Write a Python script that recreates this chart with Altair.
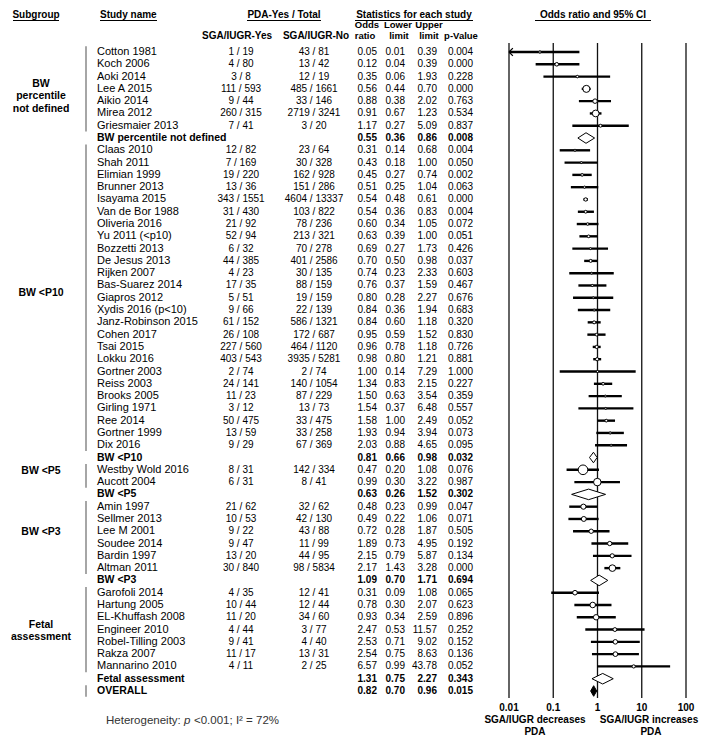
import altair as alt
import pandas as pd
import numpy as np

# ---------------- data ----------------
subgroup_names = ["BW percentile not defined", "BW <P10", "BW <P5", "BW <P3", "Fetal assessment"]
subgroup_labels = ["BW\npercentile\nnot defined", "BW <P10", "BW <P5", "BW <P3", "Fetal\nassessment"]

study_names = [
    "Cotton 1981", "Koch 2006", "Aoki 2014", "Lee A 2015", "Aikio 2014", "Mirea 2012", "Griesmaier 2013",
    "Claas 2010", "Shah 2011", "Elimian 1999", "Brunner  2013", "Isayama 2015", "Van de Bor 1988",
    "Oliveria 2016", "Yu 2011 (<p10)", "Bozzetti 2013", "De Jesus 2013", "Rijken 2007", "Bas-Suarez 2014",
    "Giapros 2012", "Xydis 2016 (p<10)", "Janz-Robinson 2015", "Cohen  2017", "Tsai 2015", "Lokku 2016",
    "Gortner 2003", "Reiss 2003", "Brooks 2005", "Girling  1971", "Ree 2014", "Gortner  1999", "Dix 2016",
    "Westby Wold 2016", "Aucott 2004",
    "Amin 1997", "Sellmer  2013", "Lee M 2001", "Soudee 2014", "Bardin 1997", "Altman 2011",
    "Garofoli 2014", "Hartung 2005", "EL-Khuffash 2008", "Engineer 2010", "Robel-Tilling  2003",
    "Rakza 2007", "Mannarino 2010",
]
study_group = [0] * 7 + [1] * 25 + [2] * 2 + [3] * 6 + [4] * 7

yes_counts = [
    "1 / 19", "4 / 80", "3 / 8", "111 / 593", "9 / 44", "260 / 315", "7 / 41",
    "12 / 82", "7 / 169", "19 / 220", "13 / 36", "343 / 1551", "31 / 430", "21 / 92", "52 / 94",
    "6 / 32", "44 / 385", "4 / 23", "17 / 35", "5 / 51", "9 / 66", "61 / 152", "26 / 108", "227 / 560",
    "403 / 543", "2 / 74", "24 / 141", "11 / 23", "3 / 12", "50 / 475", "13 / 59", "9 / 29",
    "8 / 31", "6 / 31",
    "21 / 62", "10 / 53", "9 / 22", "9 / 47", "13 / 20", "30 / 840",
    "4 / 35", "10 / 44", "11 / 20", "4 / 44", "9 / 41", "11 / 17", "4 / 11",
]
no_counts = [
    "43 / 81", "13 / 42", "12 / 19", "485 / 1661", "33 / 146", "2719 / 3241", "3 / 20",
    "23 / 64", "30 / 328", "162 / 928", "151 / 286", "4604 / 13337", "103 / 822", "78 / 236", "213 / 321",
    "70 / 278", "401 / 2586", "30 / 135", "88 / 159", "19 / 159", "22 / 139", "586 / 1321", "172 / 687",
    "464 / 1120", "3935 / 5281", "2 / 74", "140 / 1054", "87 / 229", "13 / 73", "33 / 475", "33 / 258",
    "67 / 369",
    "142 / 334", "8 / 41",
    "32 / 62", "42 / 130", "43 / 88", "11 / 99", "44 / 95", "98 / 5834",
    "12 / 41", "12 / 44", "34 / 60", "3 / 77", "4 / 40", "13 / 31", "2 / 25",
]
odds_ratio = [
    0.05, 0.12, 0.35, 0.56, 0.88, 0.91, 1.17,
    0.31, 0.43, 0.45, 0.51, 0.54, 0.54, 0.60, 0.63, 0.69, 0.70, 0.74, 0.76, 0.80, 0.84, 0.84, 0.95,
    0.96, 0.98, 1.00, 1.34, 1.50, 1.54, 1.58, 1.93, 2.03,
    0.47, 0.99,
    0.48, 0.49, 0.72, 1.89, 2.15, 2.17,
    0.31, 0.78, 0.93, 2.47, 2.53, 2.54, 6.57,
]
lower_limit = [
    0.01, 0.04, 0.06, 0.44, 0.38, 0.67, 0.27,
    0.14, 0.18, 0.27, 0.25, 0.48, 0.36, 0.34, 0.39, 0.27, 0.50, 0.23, 0.37, 0.28, 0.36, 0.60, 0.59,
    0.78, 0.80, 0.14, 0.83, 0.63, 0.37, 1.00, 0.94, 0.88,
    0.20, 0.30,
    0.23, 0.22, 0.28, 0.73, 0.79, 1.43,
    0.09, 0.30, 0.34, 0.53, 0.71, 0.75, 0.99,
]
upper_limit = [
    0.39, 0.39, 1.93, 0.70, 2.02, 1.23, 5.09,
    0.68, 1.00, 0.74, 1.04, 0.61, 0.83, 1.05, 1.00, 1.73, 0.98, 2.33, 1.59, 2.27, 1.94, 1.18, 1.52,
    1.18, 1.21, 7.29, 2.15, 3.54, 6.48, 2.49, 3.94, 4.65,
    1.08, 3.22,
    0.99, 1.06, 1.87, 4.95, 5.87, 3.28,
    1.08, 2.07, 2.59, 11.57, 9.02, 8.63, 43.78,
]
p_values = [
    "0.004", "0.000", "0.228", "0.000", "0.763", "0.534", "0.837",
    "0.004", "0.050", "0.002", "0.063", "0.000", "0.004", "0.072", "0.051", "0.426", "0.037", "0.603",
    "0.467", "0.676", "0.683", "0.320", "0.830", "0.726", "0.881", "1.000", "0.227", "0.359", "0.557",
    "0.052", "0.073", "0.095",
    "0.076", "0.987",
    "0.047", "0.071", "0.505", "0.192", "0.134", "0.000",
    "0.065", "0.623", "0.896", "0.252", "0.152", "0.136", "0.052",
]

summary_or = [0.55, 0.81, 0.63, 1.09, 1.31]
summary_lower = [0.36, 0.66, 0.26, 0.70, 0.75]
summary_upper = [0.86, 0.98, 1.52, 1.71, 2.27]
summary_p = ["0.008", "0.032", "0.302", "0.694", "0.343"]

overall_name = "OVERALL"
overall_or, overall_lower, overall_upper, overall_p = 0.82, 0.70, 0.96, "0.015"

axis_ticks = [0.01, 0.1, 1, 10, 100]
axis_tick_labels = ["0.01", "0.1", "1", "10", "100"]

# ---------------- table building ----------------
rows = []
group_rows = []
r = 0
for gi in range(len(subgroup_names)):
    idx = [i for i, g in enumerate(study_group) if g == gi]
    se = np.array([(np.log(upper_limit[i]) - np.log(lower_limit[i])) / 3.92 for i in idx])
    w = 1.0 / (se ** 2 + 0.1)
    relw = w / w.sum()
    first = r
    for k, i in enumerate(idx):
        rows.append(dict(row=r, kind="study", name=study_names[i], yes=yes_counts[i], no=no_counts[i],
                         orv=odds_ratio[i], lo=lower_limit[i], hi=upper_limit[i],
                         or_t=f"{odds_ratio[i]:.2f}", lo_t=f"{lower_limit[i]:.2f}",
                         hi_t=f"{upper_limit[i]:.2f}", p=p_values[i],
                         msize=max(4.0, 150.0 * relw[k])))
        r += 1
    last = r - 1
    group_rows.append(dict(lab=subgroup_labels[gi], yc=(first + last) / 2.0 - 0.4,
                           y1=first - 0.47, y2=last + 0.47))
    rows.append(dict(row=r, kind="summary", name=subgroup_names[gi], yes="", no="",
                     orv=summary_or[gi], lo=summary_lower[gi], hi=summary_upper[gi],
                     or_t=f"{summary_or[gi]:.2f}", lo_t=f"{summary_lower[gi]:.2f}",
                     hi_t=f"{summary_upper[gi]:.2f}", p=summary_p[gi], msize=0.0))
    r += 1
rows.append(dict(row=r, kind="overall", name=overall_name, yes="", no="",
                 orv=overall_or, lo=overall_lower, hi=overall_upper,
                 or_t=f"{overall_or:.2f}", lo_t=f"{overall_lower:.2f}",
                 hi_t=f"{overall_upper:.2f}", p=overall_p, msize=0.0))
n_rows = r + 1
df = pd.DataFrame(rows)
studies = df[df.kind == "study"]
summaries = df[df.kind != "study"]
bars = pd.DataFrame(group_rows + [dict(lab="", yc=r, y1=r - 0.47, y2=r + 0.47)])
groups = pd.DataFrame(group_rows)

dia = []
for _, s in summaries.iterrows():
    h = 0.43
    dia.append(dict(row=s.row, kind=s.kind, x=s.lo, ya=s.row, yb=s.row))
    dia.append(dict(row=s.row, kind=s.kind, x=s.orv, ya=s.row - h, yb=s.row + h))
    dia.append(dict(row=s.row, kind=s.kind, x=s.hi, ya=s.row, yb=s.row))
dia = pd.DataFrame(dia)
arrows = studies[studies.lo <= axis_ticks[0]]
ticks = pd.DataFrame({"v": axis_ticks, "lab": axis_tick_labels})

# ---------------- chart ----------------
REG = "Liberation Sans, Arial, sans-serif"

xs = alt.Scale(type="log", domain=[0.01, 100], range=[501, 678])
ys = alt.Scale(domain=[0, n_rows - 1], range=[44, 683], nice=False, zero=False)
X = lambda f: alt.X(f, scale=xs, axis=None)
Y = lambda f: alt.Y(f, scale=ys, axis=None)

one = pd.DataFrame({"t": ["x"]})


def label(text, x, y, align="center", size=10, bold=True, color="black", italic=False):
    kw = dict(align=align, baseline="middle", fontSize=size, font=REG, color=color,
              fontWeight="bold" if bold else "normal")
    if italic:
        kw["fontStyle"] = "italic"
    return alt.Chart(pd.DataFrame({"t": [text]})).mark_text(**kw).encode(
        x=alt.value(x), y=alt.value(y), text="t:N")


def uline(x1, x2, y):
    return alt.Chart(one).mark_rule(color="black", strokeWidth=1).encode(
        x=alt.value(x1), x2=alt.value(x2), y=alt.value(y))


def col(data, field, x, align, bold, size=10):
    return alt.Chart(data).mark_text(align=align, baseline="middle", fontSize=size, font=REG,
                                     fontWeight="bold" if bold else "normal", color="black").encode(
        x=alt.value(x), y=Y("row:Q"), text=f"{field}:N")


layers = []
# headers
TY = 6.5
UY = 12.5
layers += [
    label("Subgroup", 28, TY), uline(5, 51, UY),
    label("Study name", 92, TY, align="left"), uline(92, 149, UY),
    label("PDA-Yes / Total", 276, TY), uline(239, 313, UY),
    label("Statistics for each study", 406, TY), uline(347, 465, UY),
    label("Odds ratio and 95% CI", 585, TY), uline(527, 643, UY),
    label("Odds", 359, 17, size=9.5), label("Lower", 390, 17, size=9.5), label("Upper", 421, 17, size=9.5),
    label("SGA/IUGR-Yes", 229, 28), label("SGA/IUGR-No", 308, 28),
    label("ratio", 357, 28, size=9.5), label("limit", 391, 28, size=9.5),
    label("limit", 421, 28, size=9.5), label("p-Value", 453, 28, size=9.5),
]

# group labels and separators
layers.append(alt.Chart(bars).mark_rule(color="#888888", strokeWidth=1.5).encode(
    x=alt.value(78), y=Y("y1:Q"), y2="y2:Q"))
layers.append(alt.Chart(groups).mark_text(align="center", baseline="middle", fontSize=10.5, font=REG,
                                          fontWeight="bold", lineBreak="\n", lineHeight=12.5,
                                          color="black").encode(
    x=alt.value(33), y=Y("yc:Q"), text="lab:N"))

# table columns
layers += [
    col(studies, "name", 89, "left", False, 11),
    col(studies, "yes", 233, "center", False),
    col(studies, "no", 306, "center", False),
    col(studies, "or_t", 369, "right", False),
    col(studies, "lo_t", 397, "right", False),
    col(studies, "hi_t", 429, "right", False),
    col(studies, "p", 465, "right", False),
    col(summaries, "name", 89, "left", True, 10.5),
    col(summaries, "or_t", 369, "right", True),
    col(summaries, "lo_t", 397, "right", True),
    col(summaries, "hi_t", 429, "right", True),
    col(summaries, "p", 465, "right", True),
]

# forest plot
layers.append(alt.Chart(ticks).mark_rule(color="#111111", strokeWidth=1.3).encode(
    x=X("v:Q"), y=alt.value(35), y2=alt.value(690)))
layers.append(alt.Chart(ticks).mark_text(baseline="middle", align="center", fontSize=10, font=REG,
                                         fontWeight="bold", color="black").encode(
    x=X("v:Q"), y=alt.value(700), text="lab:N"))
layers.append(alt.Chart(studies).mark_rule(color="black", strokeWidth=2.4).encode(
    x=X("lo:Q"), x2="hi:Q", y=Y("row:Q")))
layers.append(alt.Chart(arrows).mark_point(shape="M0,0L1,-1M0,0L1,1", filled=False, color="black",
                                           strokeWidth=1.2, size=60, opacity=1).encode(
    x=X("lo:Q"), y=Y("row:Q")))
layers.append(alt.Chart(studies).mark_point(shape="circle", filled=True, fill="white", stroke="black",
                                            strokeWidth=1, opacity=1).encode(
    x=X("orv:Q"), y=Y("row:Q"), size=alt.Size("msize:Q", scale=None, legend=None)))
layers.append(alt.Chart(dia[dia.kind == "summary"]).mark_area(orient="vertical", fill="white", stroke="black",
                                                              strokeWidth=1, opacity=1).encode(
    x=X("x:Q"), y=Y("ya:Q"), y2="yb:Q", detail="row:N"))
layers.append(alt.Chart(dia[dia.kind == "overall"]).mark_area(orient="vertical", fill="black", stroke="black",
                                                              strokeWidth=1, opacity=1).encode(
    x=X("x:Q"), y=Y("ya:Q"), y2="yb:Q", detail="row:N"))

# footer texts
hx = 98
layers += [
    label("Heterogeneity:", hx, 713, align="left", size=11.5, bold=False, color="#333333"),
    label("p", hx + 78, 713, align="left", size=11.5, bold=False, color="#333333", italic=True),
    label("<0.001; I² = 72%", hx + 88, 713, align="left", size=11.5, bold=False, color="#333333"),
    label("SGA/IUGR decreases", 527, 712),
    label("PDA", 527, 723.5),
    label("SGA/IUGR increases", 641, 712),
    label("PDA", 643, 723.5),
]

chart = alt.layer(*layers).properties(
    width=692, height=730, autosize=alt.AutoSizeParams(type="none"), padding=0
).configure_view(stroke=None)

chart.save("out.html", embed_options={"renderer": "svg", "actions": False})
